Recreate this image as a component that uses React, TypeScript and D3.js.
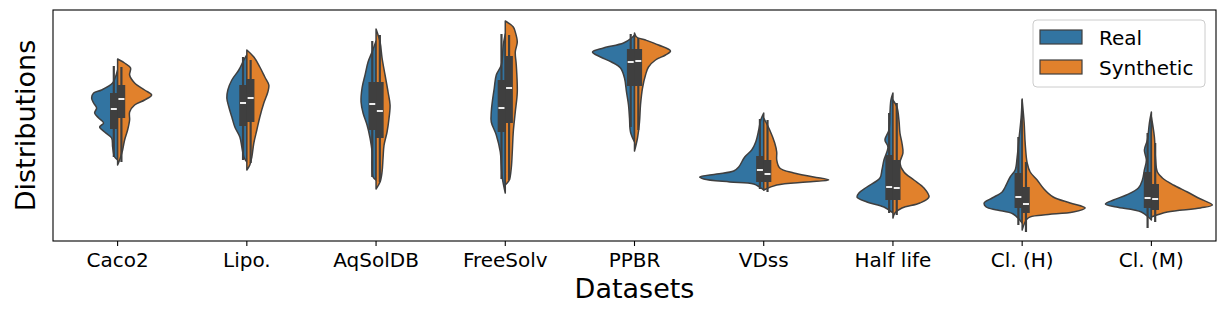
import React from 'react';
import * as d3 from 'd3';

// dataset names on the x axis
const categories = ['Caco2', 'Lipo.', 'AqSolDB', 'FreeSolv', 'PPBR', 'VDss', 'Half life', 'Cl. (H)', 'Cl. (M)'];
const seriesNames = ['Real', 'Synthetic'];

// violin profiles: [value, density] (arbitrary units)
const realProfiles: [number, number][][] = [
  [[171, 0], [163, 2.5], [158, 5], [151, 16], [148, 24], [143, 26], [138, 24], [133, 21], [128, 23], [123, 19], [118, 14], [114, 18], [109, 13], [103, 6], [94, 5], [84, 3], [81, 0]],
  [[186, 0], [181, 3], [171, 8], [161, 15], [151, 19], [143, 20], [134, 18], [124, 15], [114, 12], [104, 7], [94, 5], [84, 3], [79, 0]],
  [[200, 0], [189, 4], [179, 8], [166, 11], [153, 14], [139, 15], [128, 13], [116, 9], [103, 6], [89, 4], [76, 4], [64, 3], [61, 0]],
  [[207, 0], [196, 2], [176, 4], [166, 9], [153, 11], [139, 13], [129, 14], [119, 14], [106, 9], [89, 5], [76, 4], [63, 3], [48, 0]],
  [[206, 0], [203, 3], [198, 11], [193, 31], [189, 42], [184, 34], [179, 23], [173, 14], [163, 10], [149, 8], [136, 6], [123, 5], [109, 4], [99, 0]],
  [[128, 0], [121, 3], [111, 5], [99, 8], [91, 12], [84, 19], [74, 25], [70, 30], [67, 47], [64, 64], [62, 60], [59, 34], [57, 10], [51, 0]],
  [[148, 0], [141, 2], [128, 3], [111, 4], [101, 8], [94, 5], [81, 9], [71, 11], [63, 13], [54, 26], [48, 34], [44, 36], [39, 26], [34, 9], [28, 0]],
  [[142, 0], [124, 1], [104, 3], [84, 5], [71, 7], [64, 12], [54, 17], [49, 20], [43, 30], [38, 38], [34, 36], [31, 25], [27, 9], [18, 0]],
  [[129, 0], [118, 2], [101, 4], [91, 7], [81, 5], [71, 7], [61, 9], [53, 13], [46, 25], [41, 38], [37, 46], [34, 35], [29, 10], [21, 0]],
];

const synthProfiles: [number, number][][] = [
  [[182, 0], [178, 7], [173, 13], [166, 12], [158, 17], [151, 27], [146, 34], [141, 27], [136, 17], [129, 12], [121, 12], [111, 10], [101, 7], [91, 5], [81, 2], [76, 0]],
  [[191, 0], [184, 7], [174, 13], [164, 18], [156, 22], [149, 21], [138, 17], [124, 13], [111, 10], [98, 7], [84, 5], [76, 3], [71, 0]],
  [[212, 0], [199, 4], [183, 6], [166, 9], [149, 12], [136, 14], [123, 13], [109, 11], [96, 8], [83, 7], [69, 6], [59, 4], [52, 0]],
  [[220, 0], [214, 8], [209, 10], [199, 12], [189, 10], [176, 11], [149, 12], [129, 10], [109, 8], [89, 7], [73, 6], [61, 4], [56, 0]],
  [[208, 0], [204, 2], [201, 11], [196, 24], [190, 36], [186, 31], [181, 21], [174, 14], [166, 11], [153, 8], [136, 6], [119, 5], [103, 3], [90, 0]],
  [[123, 0], [111, 6], [98, 11], [89, 13], [81, 13], [73, 16], [68, 30], [64, 50], [61, 65], [59, 43], [56, 13], [51, 0]],
  [[141, 0], [134, 4], [121, 6], [108, 7], [98, 9], [88, 10], [78, 7], [69, 11], [61, 21], [53, 31], [44, 36], [38, 27], [33, 9], [28, 2], [23, 0]],
  [[141, 0], [118, 2], [98, 3], [78, 5], [69, 8], [61, 15], [53, 21], [44, 31], [38, 48], [33, 63], [29, 51], [26, 21], [23, 6], [11, 0]],
  [[124, 0], [104, 3], [84, 4], [69, 6], [63, 11], [56, 22], [49, 36], [43, 47], [36, 61], [33, 49], [29, 16], [24, 0]],
];

// inner boxes: [whisker low, q1, median, q3, whisker high]
const realBoxes: number[][] = [
  [84, 112, 132, 148, 175],
  [81, 115, 138, 156, 184],
  [64, 111, 137, 159, 200],
  [62, 109, 133, 161, 207],
  [114, 155, 179, 192, 207],
  [52, 59, 71, 85, 122],
  [28, 41, 54, 86, 128],
  [16, 33, 44, 68, 104],
  [13, 33, 43, 69, 108],
];

const synthBoxes: number[][] = [
  [79, 123, 142, 156, 174],
  [78, 119, 143, 162, 181],
  [59, 103, 130, 159, 206],
  [61, 118, 153, 185, 206],
  [111, 155, 180, 192, 203],
  [49, 59, 67, 81, 121],
  [26, 41, 53, 81, 138],
  [9, 28, 37, 54, 79],
  [19, 31, 42, 57, 98],
];

const colors = ['#3274a1', '#e1812c'];
const edge = '#3f3f3f';

const W = 1225;
const H = 314;
const margin = { left: 53, right: 9, top: 10, bottom: 73 };
const plotR = W - margin.right;
const plotB = H - margin.bottom;
const font = 'DejaVu Sans, sans-serif';

export default function App() {
  const x = d3.scaleBand<string>().domain(categories).range([margin.left, plotR]);
  const y = d3.scaleLinear().domain([0, 231]).range([plotB, margin.top]);
  const w = d3.scaleLinear().domain([0, 64]).range([0, 64]);

  const half = (cx: number, side: number) =>
    d3.area<[number, number]>()
      .y(d => y(d[0]))
      .x0(cx)
      .x1(d => cx + side * w(d[1]))
      .curve(d3.curveCatmullRom.alpha(0.5));

  const box = (cx: number, side: number, b: number[], key: string) => {
    const bw = 7.6;
    const left = side < 0 ? cx - bw : cx;
    const mid = left + bw / 2;
    return (
      <g key={key}>
        <line x1={mid} x2={mid} y1={y(b[0])} y2={y(b[4])} stroke={edge} strokeWidth={2.2} />
        <rect x={left} y={y(b[3])} width={bw} height={y(b[1]) - y(b[3])} fill={edge} />
        <rect x={mid - 3} y={y(b[2]) - 1} width={6} height={2} fill="#eeeeee" />
      </g>
    );
  };

  return (
    <svg width={W} height={H} style={{ position: 'absolute', left: 0, top: 0, background: '#fff' }}>
      {categories.map((c, i) => {
        const cx = (x(c) as number) + x.bandwidth() / 2;
        return (
          <g key={c}>
            <path d={half(cx, -1)(realProfiles[i]) || ''} fill={colors[0]} stroke={edge} strokeWidth={1.5} strokeLinejoin="round" />
            <path d={half(cx, 1)(synthProfiles[i]) || ''} fill={colors[1]} stroke={edge} strokeWidth={1.5} strokeLinejoin="round" />
            {box(cx, -1, realBoxes[i], 'r')}
            {box(cx, 1, synthBoxes[i], 's')}
          </g>
        );
      })}

      <rect x={margin.left} y={margin.top} width={plotR - margin.left} height={plotB - margin.top} fill="none" stroke="#000" strokeWidth={1.1} />

      {categories.map(c => {
        const cx = (x(c) as number) + x.bandwidth() / 2;
        return (
          <g key={'t' + c}>
            <line x1={cx} x2={cx} y1={plotB} y2={plotB + 5} stroke="#000" strokeWidth={1.1} />
            <text x={cx} y={plotB + 26} textAnchor="middle" fontFamily={font} fontSize={20}>{c}</text>
          </g>
        );
      })}

      <text x={(margin.left + plotR) / 2} y={298} textAnchor="middle" fontFamily={font} fontSize={27}>Datasets</text>
      <text transform={`translate(35,${(margin.top + plotB) / 2}) rotate(-90)`} textAnchor="middle" fontFamily={font} fontSize={27}>Distributions</text>

      <g>
        <rect x={1033} y={20} width={172} height={67} rx={4} fill="#fff" fillOpacity={0.8} stroke="#cccccc" strokeWidth={1} />
        {seriesNames.map((s, i) => (
          <g key={s}>
            <rect x={1040} y={30 + i * 30} width={42} height={14} fill={colors[i]} stroke={edge} strokeWidth={1.2} />
            <text x={1099} y={45 + i * 29.5} fontFamily={font} fontSize={20}>{s}</text>
          </g>
        ))}
      </g>
    </svg>
  );
}
